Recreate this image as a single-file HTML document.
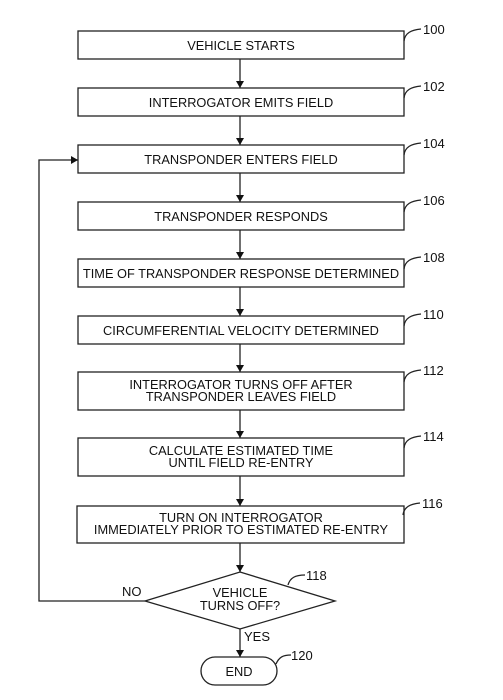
<!DOCTYPE html>
<html><head><meta charset="utf-8"><style>html,body{margin:0;padding:0;background:#fff}svg{display:block}</style></head><body>
<svg width="503" height="700" viewBox="0 0 503 700" xmlns="http://www.w3.org/2000/svg" font-family="Liberation Sans, sans-serif" font-size="12.8" fill="#111">
<defs><marker id="a" markerWidth="8" markerHeight="10" refX="7" refY="5" orient="auto" markerUnits="userSpaceOnUse"><path d="M0,1 L7,5 L0,9 z" fill="#111"/></marker></defs>
<g fill="none" stroke="#222" stroke-width="1.3">
<rect x="78" y="31" width="326" height="28"/>
<rect x="78" y="88" width="326" height="28"/>
<rect x="78" y="145" width="326" height="28"/>
<rect x="78" y="202" width="326" height="28"/>
<rect x="78" y="259" width="326" height="28"/>
<rect x="78" y="316" width="326" height="28"/>
<rect x="78" y="372" width="326" height="38"/>
<rect x="78" y="438" width="326" height="38"/>
<rect x="77" y="506" width="327" height="37"/>
<polygon points="240,572 335,601 240,629 145,601"/>
<rect x="201" y="657" width="76" height="28" rx="14"/>
<g marker-end="url(#a)">
<line x1="240" y1="59" x2="240" y2="88"/>
<line x1="240" y1="116" x2="240" y2="145"/>
<line x1="240" y1="173" x2="240" y2="202"/>
<line x1="240" y1="230" x2="240" y2="259"/>
<line x1="240" y1="287" x2="240" y2="316"/>
<line x1="240" y1="344" x2="240" y2="372"/>
<line x1="240" y1="410" x2="240" y2="438"/>
<line x1="240" y1="476" x2="240" y2="506"/>
<line x1="240" y1="543" x2="240" y2="572"/>
<line x1="240" y1="629" x2="240" y2="657"/>
<polyline points="145,601 39,601 39,160 78,160"/>
</g>
<path d="M404,41 C405,33 411,30 421,29"/>
<path d="M404,98 C405,90 411,87 421,86"/>
<path d="M404,155 C405,147 411,144 421,143"/>
<path d="M404,212 C405,204 411,201 421,200"/>
<path d="M404,269 C405,261 411,258 421,257"/>
<path d="M404,326 C405,318 411,315 421,314"/>
<path d="M404,382 C405,374 411,371 421,370"/>
<path d="M404,448 C405,440 411,437 421,436"/>
<path d="M403,515 C404,507 410,504 420,503"/>
<path d="M288,585 C290,578 295,575 305,575"/>
<path d="M276,664 C279,657 283,655 291,655"/>
</g>
<g text-anchor="middle">
<text x="241" y="50">VEHICLE STARTS</text>
<text x="241" y="107">INTERROGATOR EMITS FIELD</text>
<text x="241" y="164">TRANSPONDER ENTERS FIELD</text>
<text x="241" y="221">TRANSPONDER RESPONDS</text>
<text x="241" y="278">TIME OF TRANSPONDER RESPONSE DETERMINED</text>
<text x="241" y="335">CIRCUMFERENTIAL VELOCITY DETERMINED</text>
<text x="241" y="389">INTERROGATOR TURNS OFF AFTER</text>
<text x="241" y="401">TRANSPONDER LEAVES FIELD</text>
<text x="241" y="455">CALCULATE ESTIMATED TIME</text>
<text x="241" y="467">UNTIL FIELD RE-ENTRY</text>
<text x="241" y="522">TURN ON INTERROGATOR</text>
<text x="241" y="534">IMMEDIATELY PRIOR TO ESTIMATED RE-ENTRY</text>
<text x="240" y="597">VEHICLE</text>
<text x="240" y="610">TURNS OFF?</text>
<text x="239" y="676">END</text>
</g>
<g font-size="13">
<text x="423" y="34">100</text>
<text x="423" y="91">102</text>
<text x="423" y="148">104</text>
<text x="423" y="205">106</text>
<text x="423" y="262">108</text>
<text x="423" y="319">110</text>
<text x="423" y="375">112</text>
<text x="423" y="441">114</text>
<text x="422" y="508">116</text>
<text x="306" y="580">118</text>
<text x="291" y="660">120</text>
<text x="122" y="596">NO</text>
<text x="244" y="641">YES</text>
</g>
</svg>
</body></html>
